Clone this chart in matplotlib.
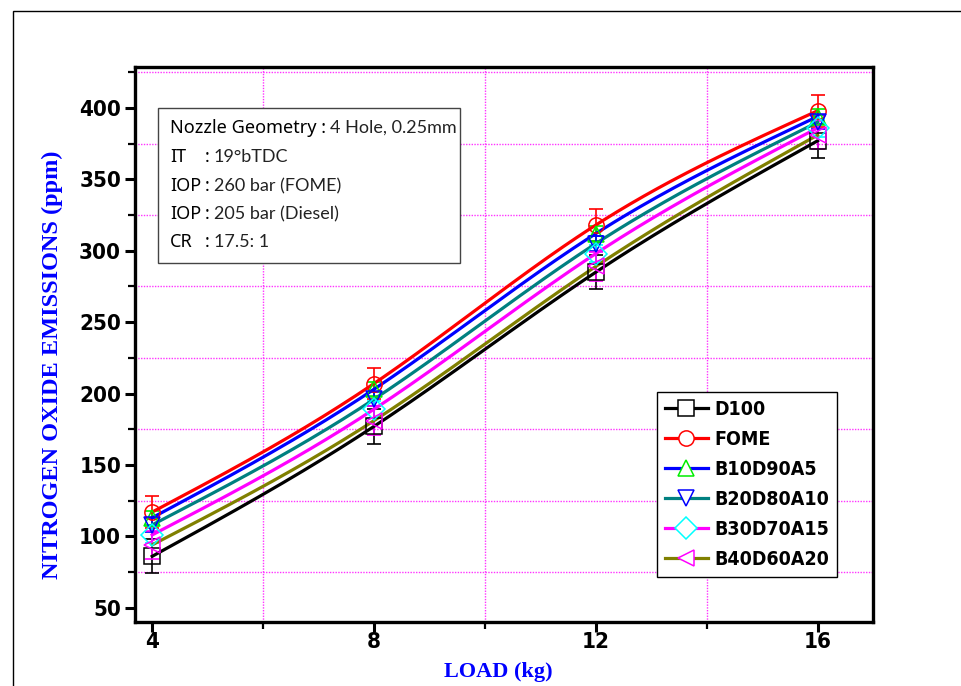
import matplotlib
matplotlib.use("Agg")
import matplotlib.pyplot as plt
import numpy as np
from matplotlib.patches import Rectangle
from matplotlib.text import Annotation
from matplotlib.ticker import FixedLocator

# === DATA ===
load = [4, 8, 12, 16]
d100 = [86, 177, 285, 377]
fome = [117, 207, 318, 398]
b10d90a5 = [113, 203, 312, 394]
b20d80a10 = [108, 196, 305, 390]
b30d70a15 = [101, 189, 298, 386]
b40d60a20 = [94, 181, 289, 381]
err_d100 = [12, 12, 12, 12]
err_fome = [11, 11, 11, 11]
err_b10 = [5, 5, 5, 5]
err_b20 = [5, 5, 5, 5]
err_b30 = [6, 6, 6, 6]
err_b40 = [10, 10, 10, 10]
labels = ["D100", "FOME", "B10D90A5", "B20D80A10", "B30D70A15", "B40D60A20"]

# line colour, marker, marker edge colour
styles = [
    ("black", "s", "black"),
    ("red", "o", "red"),
    ("blue", "^", "#00ee00"),
    ("#008080", "v", "blue"),
    ("magenta", "D", "cyan"),
    ("#808000", "<", "magenta"),
]
series = [d100, fome, b10d90a5, b20d80a10, b30d70a15, b40d60a20]
errors = [err_d100, err_fome, err_b10, err_b20, err_b30, err_b40]


def spline(x, y, n=200):
    # natural cubic spline, like Origin's "spline" connect
    x = np.asarray(x, float)
    y = np.asarray(y, float)
    k = len(x)
    h = np.diff(x)
    A = np.zeros((k, k))
    r = np.zeros(k)
    A[0, 0] = A[-1, -1] = 1
    for i in range(1, k - 1):
        A[i, i - 1] = h[i - 1]
        A[i, i] = 2 * (h[i - 1] + h[i])
        A[i, i + 1] = h[i]
        r[i] = 6 * ((y[i + 1] - y[i]) / h[i] - (y[i] - y[i - 1]) / h[i - 1])
    m = np.linalg.solve(A, r)
    xs = np.linspace(x[0], x[-1], n)
    idx = np.clip(np.searchsorted(x, xs) - 1, 0, k - 2)
    t0 = x[idx]
    t1 = x[idx + 1]
    hh = t1 - t0
    ys = (m[idx] * (t1 - xs) ** 3 / (6 * hh) + m[idx + 1] * (xs - t0) ** 3 / (6 * hh)
          + (y[idx] / hh - m[idx] * hh / 6) * (t1 - xs)
          + (y[idx + 1] / hh - m[idx + 1] * hh / 6) * (xs - t0))
    return xs, ys


W, H = 962, 686
fig = plt.figure(figsize=(W / 100, H / 100), dpi=100)
ax = fig.add_axes([135 / W, 1 - 622 / H, (873 - 135) / W, (622 - 67) / H])

# error bars first, markers and lines on top
for (lc, mk, mc), y, e in zip(styles, series, errors):
    ax.errorbar(load, y, yerr=e, fmt="none", ecolor=mc, elinewidth=1.2,
                capsize=5, capthick=1.2, zorder=2)

handles = []
for (lc, mk, mc), y, lab in zip(styles, series, labels):
    xs, ys = spline(load, y)
    ax.plot(xs, ys, color=lc, lw=2.3, zorder=3)
    ax.plot(load, y, ls="none", marker=mk, ms=11, mfc="none", mec=mc,
            mew=1.1, zorder=4)
    h, = ax.plot([], [], color=lc, lw=2.3, marker=mk, ms=11, mfc="white",
                 mec=mc, mew=1.1, label=lab)
    handles.append(h)

ax.set_xlim(3.69, 17.0)
ax.set_ylim(40, 428.7)
ax.set_xticks([4, 8, 12, 16])
ax.set_yticks([50, 100, 150, 200, 250, 300, 350, 400])
ax.xaxis.set_minor_locator(FixedLocator([6, 10, 14]))
ax.yaxis.set_minor_locator(FixedLocator([75, 125, 175, 225, 275, 325, 375, 425]))
ax.grid(which="minor", color="magenta", ls=(0, (1, 1)), lw=1.0, alpha=0.8)
ax.grid(which="major", visible=False)
ax.set_axisbelow(True)

for s in ax.spines.values():
    s.set_linewidth(2.4)
ax.tick_params(which="major", direction="out", length=7, width=2.2,
               labelsize=16, pad=3)
ax.tick_params(axis="x", which="major", pad=0)
ax.tick_params(which="minor", direction="out", length=5, width=1.6)
for t in ax.get_xticklabels() + ax.get_yticklabels():
    t.set_fontfamily("DejaVu Sans")
    t.set_fontweight("bold")
    t.set_fontstretch("condensed")

ax.set_xlabel("LOAD (kg)", fontfamily="Liberation Serif", fontweight="bold",
              fontsize=16, color="blue")
ax.xaxis.set_label_coords((498 - 135) / (873 - 135), -(672 - 622) / (622 - 67))
ax.xaxis.label.set_va("center")
ax.set_ylabel("NITROGEN OXIDE EMISSIONS (ppm)", fontfamily="Liberation Serif",
              fontweight="bold", fontsize=17.5, color="blue")
ax.yaxis.set_label_coords((52 - 135) / (873 - 135), (622 - 365) / (622 - 67))
ax.yaxis.label.set_va("center")

leg = ax.legend(handles=handles, loc="upper left",
                bbox_to_anchor=((657 - 135) / (873 - 135), (622 - 392) / (622 - 67)),
                prop={"family": "DejaVu Sans", "weight": "bold", "size": 14,
                      "stretch": "condensed"},
                frameon=True, fancybox=False, edgecolor="black", framealpha=1,
                handlelength=2.2, handletextpad=0.35, labelspacing=0.57,
                borderpad=0.4, numpoints=1, borderaxespad=0)
leg.get_frame().set_linewidth(1.0)

# info box
fig.patches.append(Rectangle((158 / W, 1 - 263 / H), (460 - 158) / W, (263 - 108) / H,
                             transform=fig.transFigure, fill=True, fc="white",
                             ec="#444444", lw=1.0, zorder=5))
BOXFONT = "Noto Sans"
VALFONT = "Lato"
BOXSIZE = 13
rows = [
    ("Nozzle Geometry :", None, "4 Hole, 0.25mm", 128),
    ("IT", ":", "19\u00b0bTDC", 157),
    ("IOP", ":", "260 bar (FOME)", 186),
    ("IOP", ":", "205 bar (Diesel)", 214),
    ("CR", ":", "17.5: 1", 242),
]
for lab, colon, val, yy in rows:
    t = fig.text(170 / W, 1 - yy / H, lab, fontfamily=BOXFONT, fontweight="bold",
                 fontsize=BOXSIZE, va="center", ha="left", zorder=6)
    anchor = t
    if colon:
        anchor = fig.text(205 / W, 1 - yy / H, ":", fontfamily=BOXFONT,
                          fontweight="bold", fontsize=BOXSIZE, va="center",
                          ha="left", zorder=6)
    ann = Annotation(val, xy=(1, 0.5), xycoords=anchor, xytext=(3, 0),
                     textcoords="offset points", va="center", ha="left",
                     fontfamily=VALFONT, fontsize=13, color="#222222",
                     annotation_clip=False, zorder=6)
    fig.add_artist(ann)

# outer frame line
fig.patches.append(Rectangle((13 / W, -0.05), 1.5, 1 - 11 / H + 0.05,
                             transform=fig.transFigure, fill=False,
                             ec="black", lw=1.0))

fig.savefig("out.png", dpi=100)
